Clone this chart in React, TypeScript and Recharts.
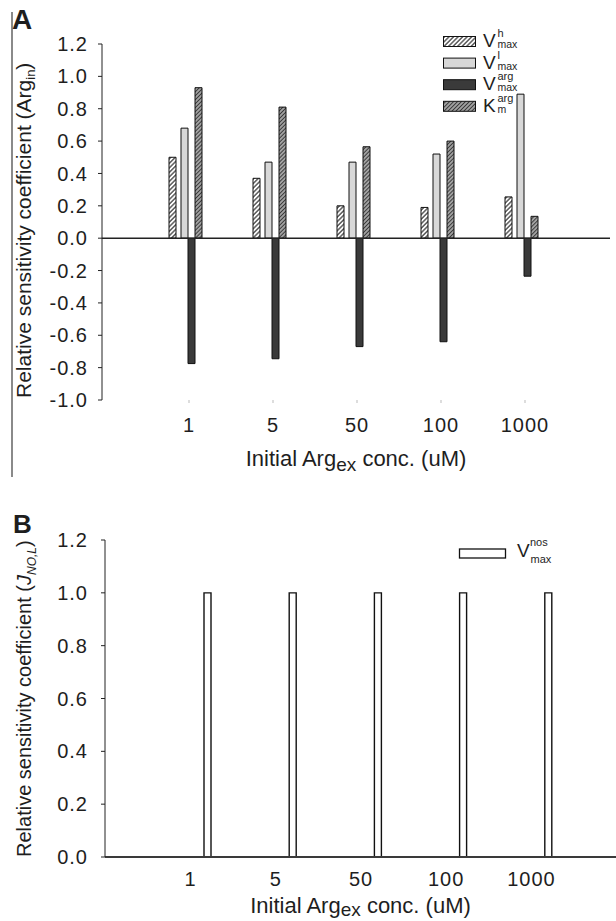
import React from "react";
import { Bar, BarChart, Legend, ReferenceLine, XAxis, YAxis } from "recharts";

// Initial Arg_ex concentration (uM)
const categories = ["1", "5", "50", "100", "1000"];

// Panel A: relative sensitivity coefficients of Arg_in
const vMaxH = [0.5, 0.37, 0.2, 0.19, 0.255];
const vMaxL = [0.68, 0.47, 0.47, 0.52, 0.89];
const vMaxArg = [-0.775, -0.745, -0.67, -0.64, -0.235];
const kmArg = [0.93, 0.81, 0.565, 0.6, 0.135];
const ticksA = [-1, -0.8, -0.6, -0.4, -0.2, 0, 0.2, 0.4, 0.6, 0.8, 1, 1.2];

// Panel B: relative sensitivity coefficients of J_NO,L
const vMaxNos = [1, 1, 1, 1, 1];
const ticksB = [0, 0.2, 0.4, 0.6, 0.8, 1, 1.2];

const dataA = categories.map((conc, i) => ({
  conc,
  vh: vMaxH[i],
  vl: vMaxL[i],
  varg: vMaxArg[i],
  km: kmArg[i],
}));

const dataB = categories.map((conc, i) => ({ conc, nos: vMaxNos[i] }));

const FONT = '"Liberation Sans", Arial, Helvetica, sans-serif';
const INK = "#1e1e1e";
const LIGHT = "#d8d8d8";
const DARK = "#3a3a3a";

const tickStyle = { fontSize: 20, fontFamily: FONT, fill: INK, letterSpacing: 1 };
const fmt = (v: number) => v.toFixed(1);

const Patterns = () => (
  <defs>
    <pattern id="hatchH" patternUnits="userSpaceOnUse" width={3.2} height={3.2} patternTransform="rotate(45)">
      <rect width={3.2} height={3.2} fill="#fff" />
      <line x1={1.6} y1={0} x2={1.6} y2={3.2} stroke="#222" strokeWidth={1.1} />
    </pattern>
    <pattern id="hatchKm" patternUnits="userSpaceOnUse" width={2.8} height={2.8} patternTransform="rotate(45)">
      <rect width={2.8} height={2.8} fill="#a2a2a2" />
      <line x1={1.4} y1={0} x2={1.4} y2={2.8} stroke="#333" strokeWidth={0.9} />
    </pattern>
  </defs>
);

const legendA = [
  { fill: "url(#hatchH)", base: "V", sup: "h", sub: "max" },
  { fill: LIGHT, base: "V", sup: "l", sub: "max" },
  { fill: DARK, base: "V", sup: "arg", sub: "max" },
  { fill: "url(#hatchKm)", base: "K", sup: "arg", sub: "m" },
];

function LegendA() {
  return (
    <svg width={120} height={90} style={{ overflow: "visible", display: "block" }}>
      {legendA.map((r, i) => {
        const y0 = 9.5 + i * 21.6;
        return (
          <g key={i} fontFamily={FONT} fill={INK}>
            <rect x={0.5} y={y0} width={32} height={10} fill={r.fill} stroke="#111" />
            <text x={40} y={y0 + 10.7} fontSize={19}>{r.base}</text>
            <text x={54.5} y={y0 + 0.5} fontSize={11}>{r.sup}</text>
            <text x={54.5} y={y0 + 11.5} fontSize={10.5}>{r.sub}</text>
          </g>
        );
      })}
    </svg>
  );
}

function LegendB() {
  return (
    <svg width={110} height={30} style={{ overflow: "visible", display: "block" }}>
      <g fontFamily={FONT} fill={INK}>
        <rect x={0.5} y={11} width={46} height={9} fill="#fff" stroke="#111" strokeWidth={1.3} />
        <text x={58} y={19.3} fontSize={19}>V</text>
        <text x={71} y={8} fontSize={11}>nos</text>
        <text x={71.5} y={24.7} fontSize={11}>max</text>
      </g>
    </svg>
  );
}

const yLabelA = (props: any) => {
  const vb = props.viewBox || {};
  const x = (vb.x ?? 0) + 31;
  const y = (vb.y ?? 44) + (vb.height ?? 356) - 2;
  return (
    <text x={x} y={y} transform={`rotate(-90, ${x}, ${y})`} fontSize={21} fontFamily={FONT} fill={INK}>
      Relative sensitivity coefficient (Arg
      <tspan fontSize={13} dy={4}>in</tspan>
      <tspan dy={-4}>)</tspan>
    </text>
  );
};

const yLabelB = (props: any) => {
  const vb = props.viewBox || {};
  const x = (vb.x ?? 0) + 31;
  const y = (vb.y ?? 60) + (vb.height ?? 317);
  return (
    <text x={x} y={y} transform={`rotate(-90, ${x}, ${y})`} fontSize={20} fontFamily={FONT} fill={INK}>
      Relative sensitivity coefficient (
      <tspan fontStyle="italic">J</tspan>
      <tspan fontStyle="italic" fontSize={12} dy={5}>NO,L</tspan>
      <tspan dy={-5}>)</tspan>
    </text>
  );
};

const xTitle = (offset: number, sub: number) => (props: any) => {
  const vb = props.viewBox || {};
  const cx = (vb.x ?? 0) + (vb.width ?? 0) / 2;
  const y = (vb.y ?? 0) + offset;
  return (
    <text x={cx} y={y} textAnchor="middle" fontSize={22} fontFamily={FONT} fill={INK}>
      Initial Arg
      <tspan fontSize={19} dy={sub}>ex</tspan>
      <tspan dy={-sub}> conc. (uM)</tspan>
    </text>
  );
};

function PanelA() {
  return (
    <BarChart
      width={616}
      height={480}
      data={dataA}
      margin={{ top: 44, right: 6, bottom: 0, left: 0 }}
      barGap={0}
    >
      <Patterns />
      <XAxis
        dataKey="conc"
        height={80}
        padding={{ left: 45, right: 43 }}
        axisLine={false}
        tickLine={{ stroke: "#bbb" }}
        tickSize={3}
        tickMargin={15}
        tick={tickStyle}
        label={xTitle(66, 5)}
      />
      <YAxis
        width={102}
        domain={[-1, 1.2]}
        ticks={ticksA}
        tickFormatter={fmt}
        stroke="#222"
        tickSize={4}
        tickMargin={10}
        tick={tickStyle}
        interval={0}
        label={yLabelA}
      />
      <Bar dataKey="vh" barSize={7} fill="url(#hatchH)" stroke="#111" strokeWidth={1} isAnimationActive={false} />
      <Bar dataKey="gap1" barSize={5} isAnimationActive={false} />
      <Bar dataKey="vl" barSize={7} fill={LIGHT} stroke="#111" strokeWidth={1} isAnimationActive={false} />
      <Bar dataKey="varg" barSize={7} fill={DARK} stroke="#111" strokeWidth={1} isAnimationActive={false} />
      <Bar dataKey="km" barSize={7} fill="url(#hatchKm)" stroke="#111" strokeWidth={1} isAnimationActive={false} />
      <Bar dataKey="gap2" barSize={8} isAnimationActive={false} />
      <ReferenceLine y={0} stroke="#222" strokeWidth={1.5} />
      <Legend
        content={<LegendA />}
        layout="horizontal"
        verticalAlign="middle"
        align="center"
        wrapperStyle={{ left: 443, top: 27, width: 130 }}
      />
    </BarChart>
  );
}

function PanelB() {
  return (
    <BarChart
      width={616}
      height={441}
      data={dataB}
      margin={{ top: 60, right: 0, bottom: 0, left: 0 }}
      barGap={0}
    >
      <XAxis
        dataKey="conc"
        height={64}
        padding={{ left: 43, right: 42 }}
        stroke="#3a3a3a"
        strokeWidth={2}
        tickLine={false}
        tickSize={0}
        tickMargin={15}
        tick={tickStyle}
        label={xTitle(56, 3)}
      />
      <YAxis
        width={105}
        domain={[0, 1.2]}
        ticks={ticksB}
        tickFormatter={fmt}
        stroke="#222"
        tickSize={4}
        tickMargin={13}
        tick={tickStyle}
        interval={0}
        label={yLabelB}
      />
      <Bar dataKey="gap" barSize={33} isAnimationActive={false} />
      <Bar dataKey="nos" barSize={7} fill="#fff" stroke="#111" strokeWidth={1.4} isAnimationActive={false} />
      <Legend
        content={<LegendB />}
        layout="horizontal"
        verticalAlign="middle"
        align="center"
        wrapperStyle={{ left: 459, top: 58, width: 120 }}
      />
    </BarChart>
  );
}

export default function App() {
  return (
    <div
      style={{
        position: "absolute",
        left: 0,
        top: 0,
        width: 616,
        height: 921,
        background: "#fff",
        overflow: "hidden",
        fontFamily: FONT,
      }}
    >
      <div style={{ position: "absolute", left: 11, top: 12, width: 1.5, height: 465, background: "#8a8a8a" }} />
      <div style={{ position: "absolute", left: 0, top: 0 }}>
        <PanelA />
      </div>
      <div style={{ position: "absolute", left: 0, top: 480 }}>
        <PanelB />
      </div>
      <div style={{ position: "absolute", left: 12, top: 4, fontSize: 28, fontWeight: "bold", color: INK }}>A</div>
      <div style={{ position: "absolute", left: 13, top: 509, fontSize: 26, fontWeight: "bold", color: INK }}>B</div>
    </div>
  );
}
